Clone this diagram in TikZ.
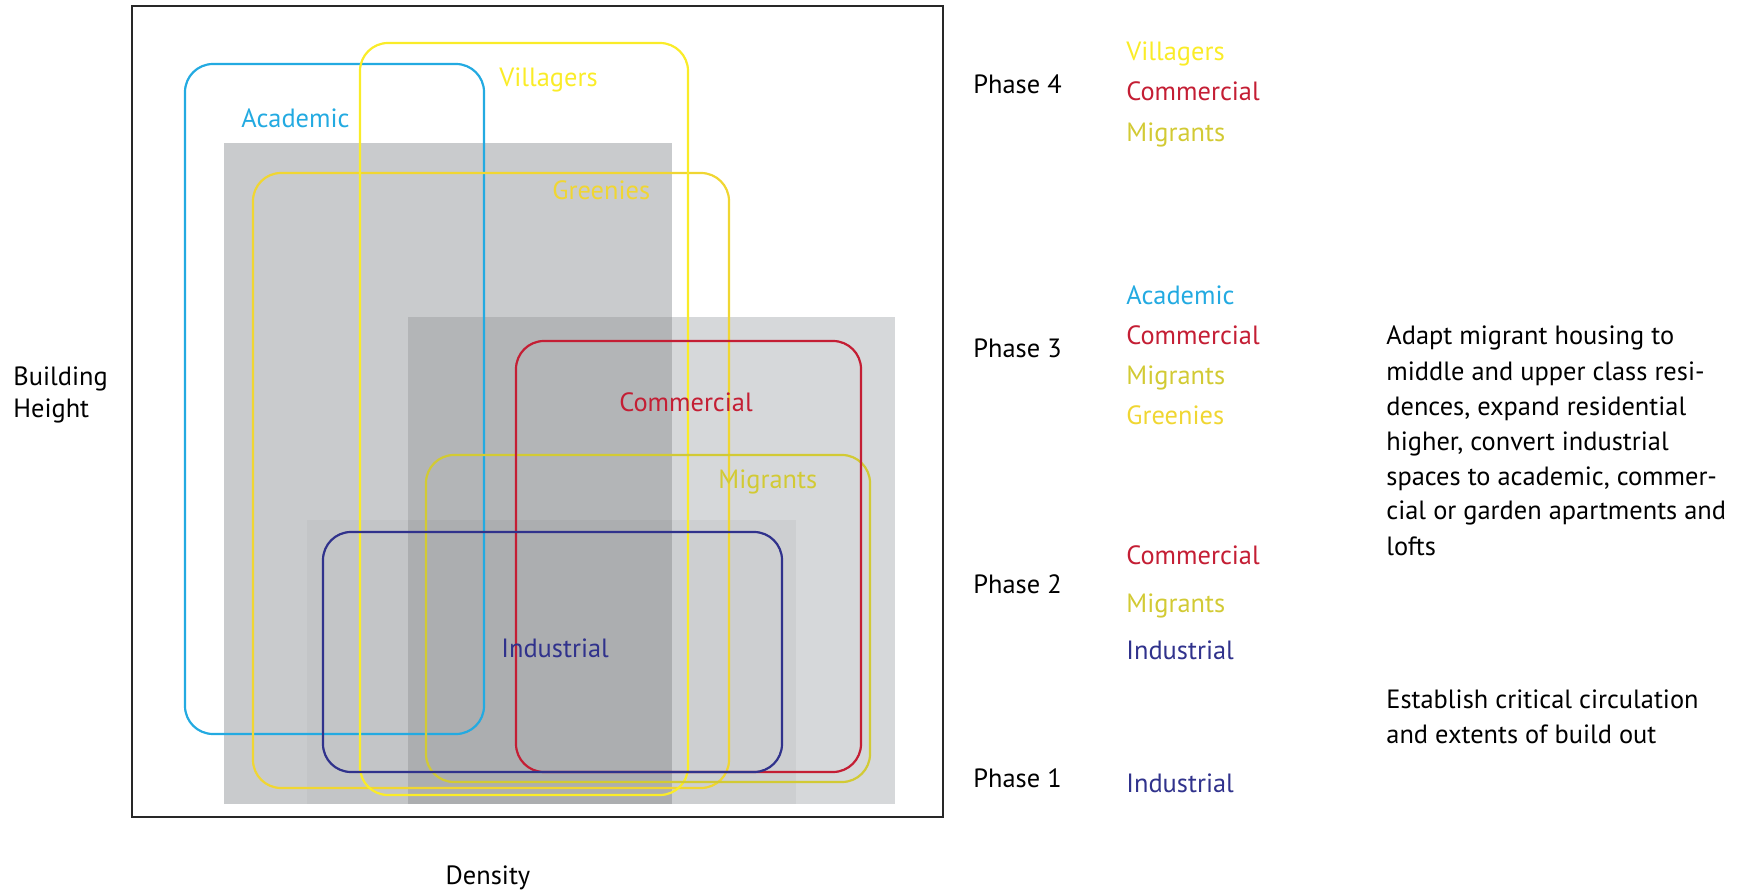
\documentclass[tikz,border=0pt]{standalone}
\usepackage{fontspec}
\setmainfont{PT Sans}
\definecolor{gA}{RGB}{201,203,205}
\definecolor{gB}{RGB}{214,216,218}
\definecolor{gAB}{RGB}{179,181,183}
\definecolor{gAC}{RGB}{195,197,199}
\definecolor{gABC}{RGB}{172,174,176}
\definecolor{gBC}{RGB}{205,207,209}
\definecolor{academicC}{RGB}{35,170,225}
\definecolor{villagerC}{RGB}{250,236,40}
\definecolor{greenieC}{RGB}{240,214,50}
\definecolor{commC}{RGB}{196,30,52}
\definecolor{migrantC}{RGB}{210,202,52}
\definecolor{indC}{RGB}{48,50,140}
\definecolor{frameC}{RGB}{40,40,40}
\begin{document}
\begin{tikzpicture}[x=0.5pt,y=-0.5pt,
  lbl/.style={inner sep=0pt,anchor=base west,font=\fontsize{13.2}{17.5}\selectfont},
  zone/.style={rounded corners=14pt,line width=1.1pt},
  para/.style={lbl,align=left}]
\useasboundingbox (0,0) rectangle (1739,892);
% gray zones
\fill[gA] (224,143) rectangle (672,804);
\fill[gB] (408,317) rectangle (895,804);
\fill[gAB] (408,317) rectangle (672,804);
\fill[gAC] (307,520) rectangle (408,804);
\fill[gABC] (408,520) rectangle (672,804);
\fill[gBC] (672,520) rectangle (796,804);
% frame
\draw[frameC,line width=1pt] (132,6) rectangle (943,817);
% zones
\draw[zone,academicC] (185,64) rectangle (484,734);
\draw[zone,greenieC] (253,173) rectangle (729,788);
\draw[zone,villagerC] (360,43) rectangle (688,795);
\draw[zone,migrantC] (426,455) rectangle (870,782);
\draw[zone,commC] (516,341) rectangle (861,772);
\draw[zone,indC] (323,532) rectangle (782,772);
% chart labels
\node[lbl,academicC] (lacad) at (241,128) {Academic};
\node[lbl,villagerC] (lvill) at (499,87) {Villagers};
\node[lbl,greenieC] (lgreen) at (552,200) {Greenies};
\node[lbl,commC] (lcomm) at (619,412) {Commercial};
\node[lbl,migrantC] (lmig) at (718,488) {Migrants};
\node[lbl,indC] (lind) at (501,657) {Industrial};
% axes
\node[lbl] (bh1) at (13,386) {Building};
\node[lbl] (bh2) at (13,418) {Height};
\node[lbl,anchor=base] (dens) at (488,884) {Density};
% phases
\node[lbl] (p4) at (973,94) {Phase 4};
\node[lbl] (p3) at (973,358) {Phase 3};
\node[lbl] (p2) at (973,593) {Phase 2};
\node[lbl] (p1) at (973,787) {Phase 1};
\node[lbl,villagerC] (p4a) at (1126,61) {Villagers};
\node[lbl,commC] (p4b) at (1126,101) {Commercial};
\node[lbl,migrantC] (p4c) at (1126,142) {Migrants};
\node[lbl,academicC] (p3a) at (1126,305) {Academic};
\node[lbl,commC] (p3b) at (1126,345) {Commercial};
\node[lbl,migrantC] (p3c) at (1126,385) {Migrants};
\node[lbl,greenieC] (p3d) at (1126,425) {Greenies};
\node[lbl,commC] (p2a) at (1126,565) {Commercial};
\node[lbl,migrantC] (p2b) at (1126,612) {Migrants};
\node[lbl,indC] (p2c) at (1126,659) {Industrial};
\node[lbl,indC] (p1a) at (1126,792) {Industrial};
% descriptions (anchored at the baseline of their last line)
\node[para] (d3) at (1386,555) {Adapt migrant housing to\\middle and upper class resi-\\dences, expand residential\\higher, convert industrial\\spaces to academic, commer-\\cial or garden apartments and\\lofts};
\node[para] (d1) at (1386,743) {Establish critical circulation\\and extents of build out};
\end{tikzpicture}
\end{document}
